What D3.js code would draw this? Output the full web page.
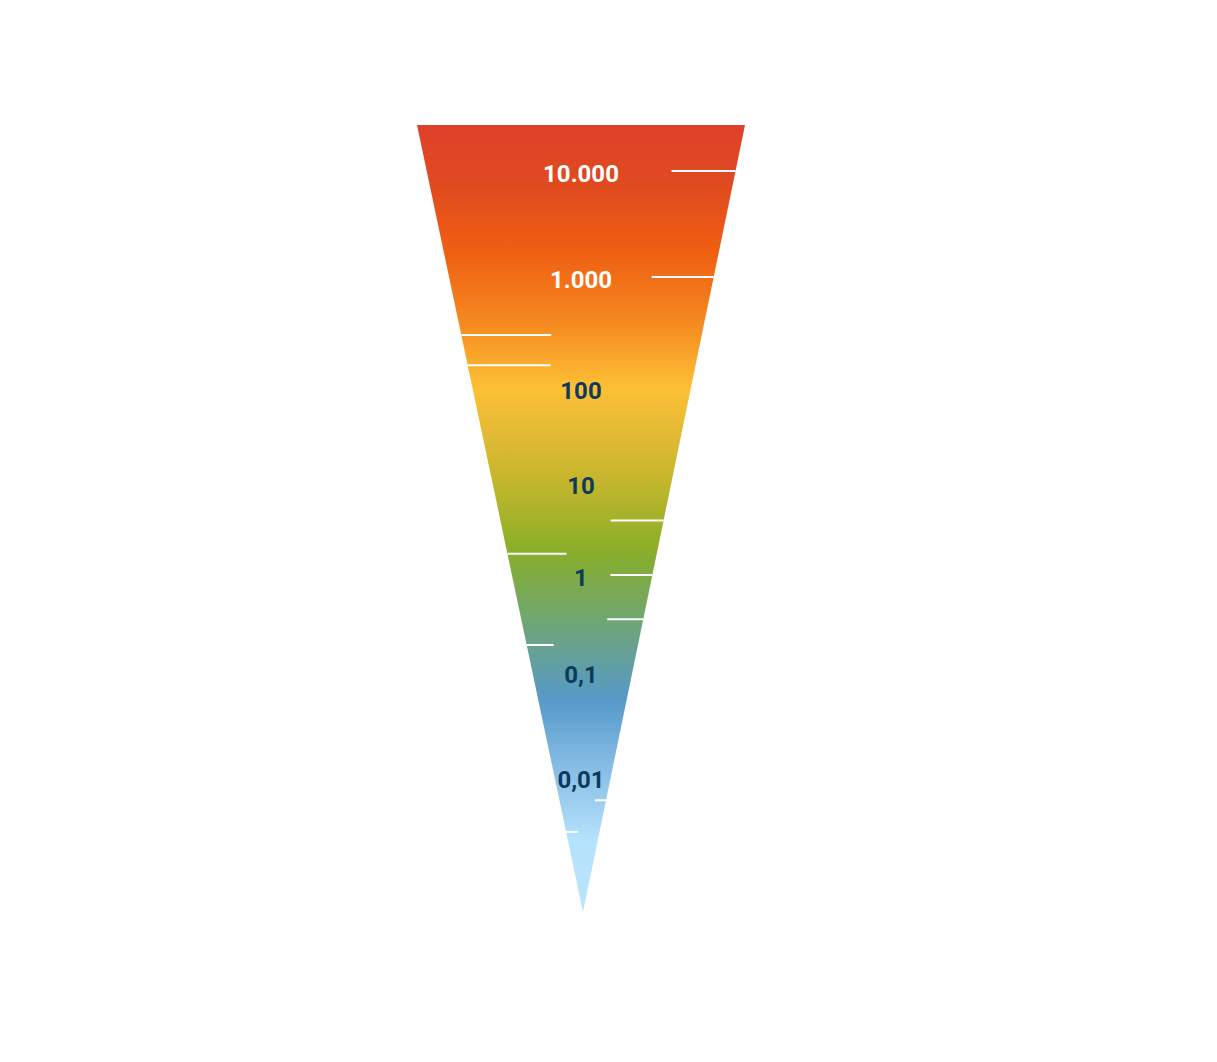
<!DOCTYPE html>
<html>
<head>
<meta charset="utf-8">
<script src="https://cdn.jsdelivr.net/npm/d3@7"></script>
<style>
  html, body { margin: 0; padding: 0; background: #ffffff; }
  svg { display: block; }
  .decade { font-family: Roboto, "Noto Sans", sans-serif; font-weight: 700; font-size: 24px; }
</style>
</head>
<body>
<svg id="chart" width="1217" height="1062"></svg>
<script>
// Decade labels on the concentration scale, top to bottom
const decadeValues = [10000, 1000, 100, 10, 1, 0.1, 0.01];
const decadeLabels = ["10.000", "1.000", "100", "10", "1", "0,1", "0,01"];

// Reference markers: value and which side of the cone they sit on
const markerValues = [10000, 1000, 300, 160, 3.9, 1.7, 1, 0.35, 0.19, 0.006, 0.003];
const markerSides  = ["right", "right", "left", "left", "right", "left", "right", "right", "left", "right", "left"];

// ---- layout ----
const W = 1217, H = 1062;
const cone = { top: 125, left: 417, right: 745, apexX: 583, apexY: 912 };
// vertical position of each decade on the scale (uneven spacing)
const decadeY = [171, 277, 388, 483, 575, 672, 777];
// how far each marker reaches inward from the cone edge
const markerReach = [64, 62, 90, 83, 53, 59, 42, 36, 27, 11, 12];

const svg = d3.select("#chart");

// polylinear log scale: value -> y
const y = d3.scaleLog().domain(decadeValues).range(decadeY);

// cone edges as functions of y
const leftEdge = d3.scaleLinear().domain([cone.top, cone.apexY]).range([cone.left, cone.apexX]);
const rightEdge = d3.scaleLinear().domain([cone.top, cone.apexY]).range([cone.right, cone.apexX]);

// colour ramp down the cone
const defs = svg.append("defs");
const grad = defs.append("linearGradient")
  .attr("id", "ramp")
  .attr("gradientUnits", "userSpaceOnUse")
  .attr("x1", 0).attr("x2", 0)
  .attr("y1", cone.top).attr("y2", cone.apexY);
const rampStops = [
  [125, "#e0402a"],
  [185, "#e04a20"],
  [250, "#ef5e12"],
  [320, "#f5871f"],
  [388, "#fdc035"],
  [440, "#dfb934"],
  [485, "#c1b62c"],
  [550, "#89ae28"],
  [620, "#70a672"],
  [700, "#5699c9"],
  [770, "#88bee6"],
  [840, "#b5e2fc"],
  [912, "#bae4fd"]
];
const off = d3.scaleLinear().domain([cone.top, cone.apexY]).range([0, 1]);
grad.selectAll("stop").data(rampStops).join("stop")
  .attr("offset", d => off(d[0]))
  .attr("stop-color", d => d[1]);

// the cone
const conePath = d3.path();
conePath.moveTo(cone.left, cone.top);
conePath.lineTo(cone.right, cone.top);
conePath.lineTo(cone.apexX, cone.apexY);
conePath.closePath();
svg.append("path").attr("d", conePath.toString()).attr("fill", "url(#ramp)");

// markers
const markers = markerValues.map((v, i) => ({ v, side: markerSides[i], reach: markerReach[i] }));
svg.append("g").selectAll("line").data(markers).join("line")
  .attr("x1", d => {
    const yy = y(d.v);
    return d.side === "right" ? rightEdge(yy) : leftEdge(yy);
  })
  .attr("x2", d => {
    const yy = y(d.v);
    return d.side === "right" ? rightEdge(yy) - d.reach : leftEdge(yy) + d.reach;
  })
  .attr("y1", d => y(d.v))
  .attr("y2", d => y(d.v))
  .attr("stroke", "#ffffff")
  .attr("stroke-width", 2);

// decade labels
const labelX = (cone.left + cone.right) / 2;
svg.append("g").selectAll("text").data(decadeValues).join("text")
  .attr("class", "decade")
  .attr("x", labelX)
  .attr("y", d => y(d) + 11)
  .attr("text-anchor", "middle")
  .attr("fill", d => d >= 1000 ? "#ffffff" : "#0d3a5c")
  .text((d, i) => decadeLabels[i]);
</script>
</body>
</html>
